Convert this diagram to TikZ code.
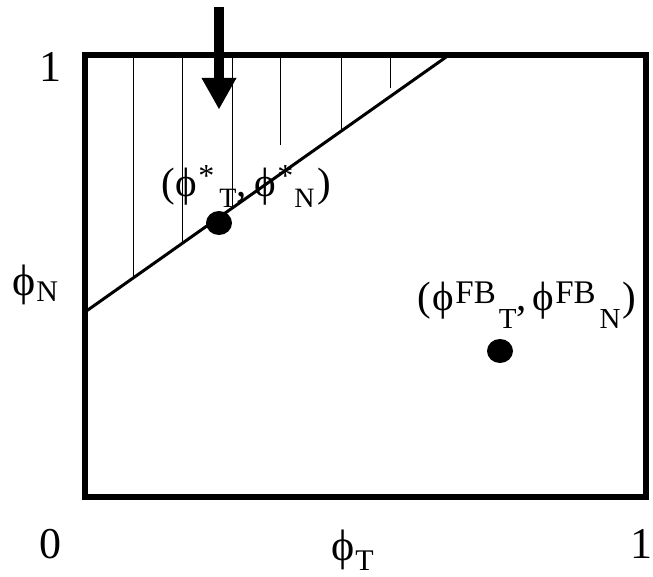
\documentclass[tikz,border=0pt]{standalone}
\usepackage{fontspec}
\setmainfont{Liberation Serif}
\usetikzlibrary{shapes.geometric,arrows.meta}
\newcommand\fsz[1]{\fontsize{#1}{#1}\selectfont}
\newcommand\shiftt[3]{\raisebox{#1}{\fsz{#2}#3}}
\tikzset{
  frame/.style={line width=6pt},
  border/.style={line width=3pt},
  hatch/.style={line width=1pt},
  dot/.style={ellipse, fill=black, minimum width=26pt, minimum height=24pt, inner sep=0pt},
  lab/.style={inner sep=0pt, font=\fsz{41}},
  axlab/.style={inner sep=0pt, font=\fsz{44}},
  bigarrow/.style={line width=10pt, -{Triangle[width=35pt,length=31pt,line width=0pt]}}
}
\begin{document}
\begin{tikzpicture}[x=1pt,y=-1pt]
\useasboundingbox (0,0) rectangle (653,577);
% frame
\draw[frame] (85,55) rectangle (646,497);
% hatching
\draw[hatch] (133,55) -- (133,278);
\draw[hatch] (182,55) -- (182,243);
\draw[hatch] (232,55) -- (232,208);
\draw[hatch] (280,55) -- (280,145);
\draw[hatch] (341,55) -- (341,131);
\draw[hatch] (390,55) -- (390,88);
% boundary line
\coordinate (b1) at (85,312);
\coordinate (b2) at (449,55);
\draw[border] (b1) -- (b2);
% arrow
\coordinate (atop) at (219,7);
\coordinate (atip) at (219,109);
\draw[bigarrow] (atop) -- (atip);
% dots
\node[dot] (star) at (219,223) {};
\node[dot] (fb) at (500,351) {};
% labels
\node[lab, anchor=base west] (lstar) at (161,197) {(\kern1pt ϕ\kern1pt\shiftt{10pt}{32}{*}\kern5pt\shiftt{-11pt}{28}{T},\kern8pt ϕ\kern1pt\shiftt{10pt}{32}{*}\kern1pt\shiftt{-11pt}{28}{N}\kern3pt)};
\node[lab, anchor=base west] (lfb) at (417,310) {(\kern2pt ϕ\kern1pt\shiftt{6pt}{33}{FB}\kern3pt\shiftt{-18pt}{29}{T},\kern6pt ϕ\kern1pt\shiftt{6pt}{33}{FB}\kern4pt\shiftt{-18pt}{29}{N}\kern2pt)};
\node[axlab, anchor=base] (one) at (50,82) {1};
\node[axlab, anchor=base west] (phin) at (12,295) {ϕ\kern1pt\shiftt{-6pt}{30}{N}};
\node[axlab, anchor=base] (zero) at (50,558) {0};
\node[axlab, anchor=base west] (phit) at (331,560) {ϕ\kern1pt\shiftt{-10pt}{30}{T}};
\node[axlab, anchor=base east] (one2) at (653,558) {1};
\end{tikzpicture}
\end{document}
